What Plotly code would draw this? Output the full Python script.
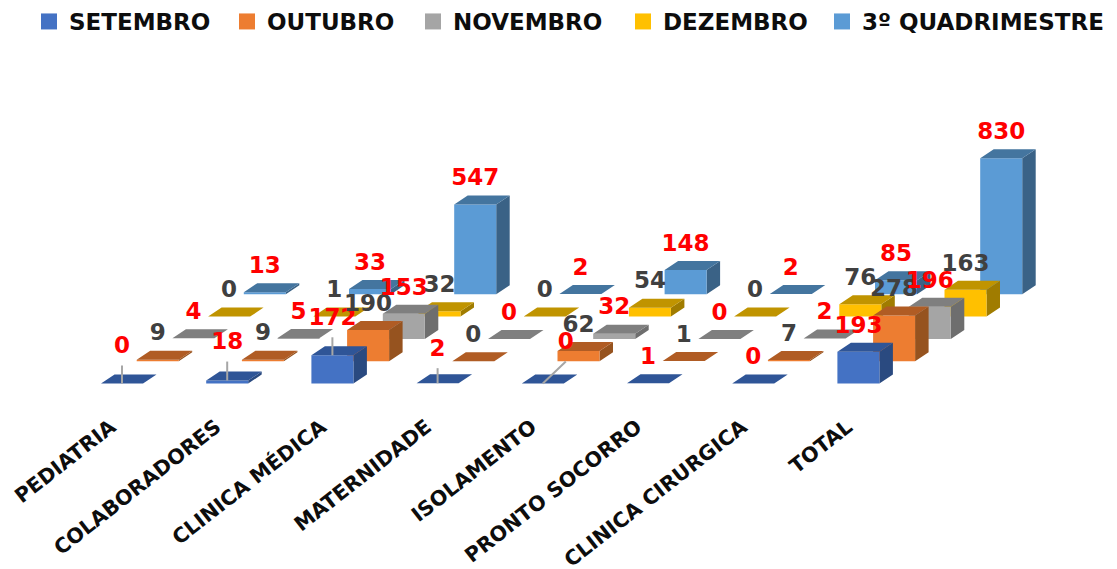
import plotly.graph_objects as go

CATEGORIES = ["PEDIATRIA", "COLABORADORES", "CLINICA MÉDICA", "MATERNIDADE",
              "ISOLAMENTO", "PRONTO SOCORRO", "CLINICA CIRURGICA", "TOTAL"]
SERIES = ["SETEMBRO", "OUTUBRO", "NOVEMBRO", "DEZEMBRO", "3º QUADRIMESTRE"]
SETEMBRO = [0, 18, 172, 2, 0, 1, 0, 193]
OUTUBRO = [9, 9, 190, 0, 62, 1, 7, 278]
NOVEMBRO = [4, 5, 153, 0, 32, 0, 2, 196]
DEZEMBRO = [0, 1, 32, 0, 54, 0, 76, 163]
QUADRIMESTRE = [13, 33, 547, 2, 148, 2, 85, 830]
VALUES = [SETEMBRO, OUTUBRO, NOVEMBRO, DEZEMBRO, QUADRIMESTRE]

# styles
FRONT = ["#4472C4", "#ED7D31", "#A5A5A5", "#FFC000", "#5B9BD5"]
TOP = ["#2F5597", "#B05C24", "#7F7F7F", "#C09400", "#44759F"]
SIDE = ["#2A4A80", "#96531F", "#6E6E6E", "#A07C00", "#3A6286"]
LABEL_COL = ["#FF0000", "#404040", "#FF0000", "#404040", "#FF0000"]
FONT = "DejaVu Sans"
LEGEND_TEXT_PX = [68, 266, 452, 662, 861]

# layout scale: pixel metrics of the oblique projection
W, H = 1117, 569
PLOT_BOTTOM = 400
CAT_PX = 105.2
ZERO_X_PX = 122
ZERO_Y_PX = 383.5
UNIT_PX = 0.164
ROW_DX, ROW_DY = 35.7, 22.3
BAR_W, DEPTH_DX, DEPTH_DY = 42, 13.5, 9
LABEL_UP = 25
TICK_SHIFT_PX = -11

px_x = lambda p: p / CAT_PX
px_y = lambda p: p / UNIT_PX

# label nudges (series, category): dx, dy in pixels; these have leader lines
NUDGE = {(0, 0): (0, 11), (0, 1): (0, 12), (0, 2): (0, 11), (0, 3): (0, 8), (0, 4): (23, 15)}

fig = go.Figure()

legend_ids = ["legend"] + [f"legend{i}" for i in range(2, len(SERIES) + 1)]
for i, name in enumerate(SERIES):
    fig.add_trace(go.Scatter(x=[None], y=[None], mode="markers", name=name, legend=legend_ids[i],
                             marker=dict(symbol="square", size=16, color=FRONT[i]),
                             hoverinfo="skip"))

for r in range(len(SERIES) - 1, -1, -1):
    fx, fy, sx, sy, tx, ty = [], [], [], [], [], []
    for c, v in enumerate(VALUES[r]):
        x0 = c + px_x(r * ROW_DX - BAR_W / 2)
        x1 = x0 + px_x(BAR_W)
        dx = px_x(DEPTH_DX)
        y0 = px_y(r * ROW_DY)
        y1 = y0 + v
        dy = px_y(DEPTH_DY)
        fx += [x0, x1, x1, x0, x0, None]
        fy += [y0, y0, y1, y1, y0, None]
        sx += [x1, x1 + dx, x1 + dx, x1, x1, None]
        sy += [y0, y0 + dy, y1 + dy, y1, y0, None]
        tx += [x0, x1, x1 + dx, x0 + dx, x0, None]
        ty += [y1, y1, y1 + dy, y1 + dy, y1, None]
    for xs, ys, col in ((sx, sy, SIDE[r]), (fx, fy, FRONT[r]), (tx, ty, TOP[r])):
        fig.add_trace(go.Scatter(x=xs, y=ys, mode="lines", fill="toself", fillcolor=col,
                                 line=dict(width=0, color=col), showlegend=False, hoverinfo="skip"))

# leader lines
lx, ly = [], []
for (r, c), (ndx, ndy) in NUDGE.items():
    xb = c + px_x(r * ROW_DX)
    yb = px_y(r * ROW_DY) + VALUES[r][c]
    xl = xb + px_x(ndx)
    yl = yb + px_y(LABEL_UP + ndy - 18)
    lx += [xb, xl, None]
    ly += [yb, yl, None]
fig.add_trace(go.Scatter(x=lx, y=ly, mode="lines", line=dict(color="#A6A6A6", width=2),
                         showlegend=False, hoverinfo="skip"))

# data labels
for r in range(len(SERIES)):
    xs, ys, ts = [], [], []
    for c, v in enumerate(VALUES[r]):
        ndx, ndy = NUDGE.get((r, c), (0, 0))
        xs.append(c + px_x(r * ROW_DX + ndx))
        ys.append(px_y(r * ROW_DY) + v + px_y(LABEL_UP + ndy))
        ts.append(str(v))
    fig.add_trace(go.Scatter(x=xs, y=ys, text=ts, mode="text", textposition="middle center",
                             textfont=dict(family=FONT, size=23, color=LABEL_COL[r], weight="bold"),
                             showlegend=False, hoverinfo="skip"))

legends = {}
for lid, tpx in zip(legend_ids, LEGEND_TEXT_PX):
    legends[lid] = dict(orientation="h", x=(tpx - 39) / W, xanchor="left", y=1.0, yanchor="top",
                        font=dict(family=FONT, size=23, color="#0D0D0D", weight="bold"),
                        itemwidth=30, bgcolor="rgba(0,0,0,0)", borderwidth=0)

fig.update_layout(
    width=W, height=H,
    margin=dict(l=0, r=0, t=0, b=H - PLOT_BOTTOM, pad=0),
    paper_bgcolor="white", plot_bgcolor="white",
    showlegend=True,
    xaxis=dict(range=[-ZERO_X_PX / CAT_PX, (W - ZERO_X_PX) / CAT_PX], tickmode="array",
               tickvals=[c + px_x(TICK_SHIFT_PX) for c in range(len(CATEGORIES))],
               ticktext=CATEGORIES, tickangle=-38,
               showgrid=False, zeroline=False, showline=False, ticks="outside", ticklen=6,
               tickcolor="rgba(0,0,0,0)",
               tickfont=dict(family=FONT, size=20.5, color="#0D0D0D", weight="bold"),
               fixedrange=True, automargin=False),
    yaxis=dict(range=[-(PLOT_BOTTOM - ZERO_Y_PX) / UNIT_PX, ZERO_Y_PX / UNIT_PX],
               visible=False, showgrid=False, zeroline=False, fixedrange=True),
    **legends,
)
fig.write_html("out.html", config={"displayModeBar": False},
               post_script="document.body.style.margin='0';document.body.style.overflow='hidden';")
